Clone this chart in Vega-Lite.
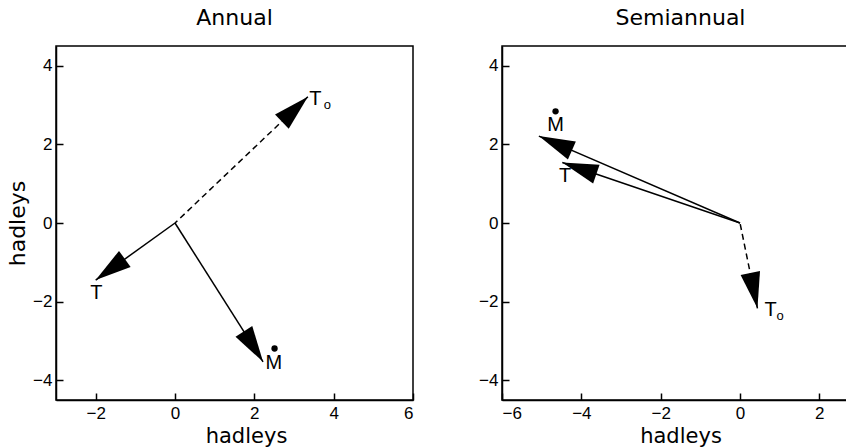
{
  "$schema": "https://vega.github.io/schema/vega-lite/v6.json",
  "padding": {"left": 5, "top": 6, "right": 0, "bottom": 0},
  "background": "white",
  "config": {
    "view": {"stroke": "black", "strokeWidth": 1.5},
    "axis": {
      "grid": false,
      "domainColor": "black",
      "domainWidth": 1.5,
      "tickColor": "black",
      "tickWidth": 1.5,
      "tickSize": -7,
      "labelFont": "Liberation Sans",
      "labelFontSize": 17,
      "labelColor": "black",
      "labelPadding": 11,
      "titleFont": "DejaVu Sans",
      "titleFontSize": 22,
      "titleFontWeight": "normal",
      "titleColor": "black"
    },
    "title": {"font": "DejaVu Sans", "fontSize": 22, "fontWeight": "normal", "color": "black", "offset": 16}
  },
  "datasets": {
    "vectors": [
      {"panel": "Annual", "vector": "T", "x": -2.0, "y": -1.45},
      {"panel": "Annual", "vector": "M", "x": 2.22, "y": -3.53},
      {"panel": "Annual", "vector": "To", "x": 3.35, "y": 3.21},
      {"panel": "Semiannual", "vector": "T", "x": -4.48, "y": 1.54},
      {"panel": "Semiannual", "vector": "M", "x": -5.07, "y": 2.21},
      {"panel": "Semiannual", "vector": "To", "x": 0.44, "y": -2.17}
    ],
    "labels": [
      {"panel": "Annual", "role": "letter", "text": "T", "x": -1.98, "y": -1.78},
      {"panel": "Annual", "role": "letter", "text": "M", "x": 2.49, "y": -3.55},
      {"panel": "Annual", "role": "letter", "text": "T", "x": 3.54, "y": 3.16},
      {"panel": "Annual", "role": "subscript", "text": "o", "x": 3.84, "y": 3.0},
      {"panel": "Semiannual", "role": "letter", "text": "M", "x": -4.65, "y": 2.48},
      {"panel": "Semiannual", "role": "letter", "text": "T", "x": -4.41, "y": 1.19},
      {"panel": "Semiannual", "role": "letter", "text": "T", "x": 0.77, "y": -2.21},
      {"panel": "Semiannual", "role": "subscript", "text": "o", "x": 1.01, "y": -2.36}
    ],
    "dots": [
      {"panel": "Annual", "x": 2.51, "y": -3.19},
      {"panel": "Semiannual", "x": -4.65, "y": 2.84}
    ]
  },
  "spacing": 62,
  "hconcat": [
    {
      "width": 357,
      "height": 354,
      "title": "Annual",
      "layer": [
        {
          "data": {"name": "vectors"},
          "transform": [{"filter": "datum.panel === 'Annual' && datum.vector !== 'To'"}],
          "mark": {"type": "rule", "color": "black", "strokeWidth": 1.5},
          "encoding": {
            "x": {"field": "x", "type": "quantitative", "scale": {"domain": [-3, 6], "nice": false, "zero": false},
                  "axis": {"values": [-2, 0, 2, 4, 6], "title": "hadleys", "titleX": 190, "titlePadding": 4, "titleFontSize": 21, "labelFontSize": 17, "labelPadding": 12}},
            "y": {"field": "y", "type": "quantitative", "scale": {"domain": [-4.5, 4.5], "nice": false, "zero": false},
                  "axis": {"values": [-4, -2, 0, 2, 4], "title": "hadleys", "titlePadding": 3, "labelFontSize": 17, "labelPadding": 11}},
            "x2": {"datum": 0},
            "y2": {"datum": 0}
          }
        },
        {
          "data": {"name": "vectors"},
          "transform": [{"filter": "datum.panel === 'Annual' && datum.vector === 'To'"}],
          "mark": {"type": "rule", "color": "black", "strokeWidth": 1.5, "strokeDash": [6, 4]},
          "encoding": {
            "x": {"field": "x", "type": "quantitative"},
            "y": {"field": "y", "type": "quantitative"},
            "x2": {"datum": 0},
            "y2": {"datum": 0}
          }
        },
        {
          "data": {"name": "vectors"},
          "transform": [
            {"filter": "datum.panel === 'Annual'"},
            {"calculate": "atan2(datum.x, datum.y) * 180 / PI", "as": "heading"}
          ],
          "mark": {"type": "point", "shape": "M0,0L0.55,2L-0.55,2Z", "filled": true, "color": "black", "opacity": 1, "size": 1296, "strokeWidth": 0},
          "encoding": {
            "x": {"field": "x", "type": "quantitative"},
            "y": {"field": "y", "type": "quantitative"},
            "angle": {"field": "heading", "type": "quantitative", "scale": null}
          }
        },
        {
          "data": {"name": "labels"},
          "transform": [{"filter": "datum.panel === 'Annual' && datum.role === 'letter'"}],
          "mark": {"type": "text", "font": "Liberation Sans", "fontSize": 20, "color": "black", "align": "center", "baseline": "middle"},
          "encoding": {
            "x": {"field": "x", "type": "quantitative"},
            "y": {"field": "y", "type": "quantitative"},
            "text": {"field": "text"}
          }
        },
        {
          "data": {"name": "labels"},
          "transform": [{"filter": "datum.panel === 'Annual' && datum.role === 'subscript'"}],
          "mark": {"type": "text", "font": "Liberation Sans", "fontSize": 13, "color": "black", "align": "center", "baseline": "middle"},
          "encoding": {
            "x": {"field": "x", "type": "quantitative"},
            "y": {"field": "y", "type": "quantitative"},
            "text": {"field": "text"}
          }
        },
        {
          "data": {"name": "dots"},
          "transform": [{"filter": "datum.panel === 'Annual'"}],
          "mark": {"type": "point", "shape": "circle", "filled": true, "color": "black", "opacity": 1, "size": 40},
          "encoding": {
            "x": {"field": "x", "type": "quantitative"},
            "y": {"field": "y", "type": "quantitative"}
          }
        }
      ]
    },
    {
      "width": 357,
      "height": 354,
      "title": "Semiannual",
      "layer": [
        {
          "data": {"name": "vectors"},
          "transform": [{"filter": "datum.panel === 'Semiannual' && datum.vector !== 'To'"}],
          "mark": {"type": "rule", "color": "black", "strokeWidth": 1.5},
          "encoding": {
            "x": {"field": "x", "type": "quantitative", "scale": {"domain": [-6, 3], "nice": false, "zero": false},
                  "axis": {"values": [-6, -4, -2, 0, 2], "title": "hadleys", "titlePadding": 4, "titleFontSize": 21, "labelFontSize": 17, "labelPadding": 12}},
            "y": {"field": "y", "type": "quantitative", "scale": {"domain": [-4.5, 4.5], "nice": false, "zero": false},
                  "axis": {"values": [-4, -2, 0, 2, 4], "title": null, "labelFontSize": 17, "labelPadding": 11}},
            "x2": {"datum": 0},
            "y2": {"datum": 0}
          }
        },
        {
          "data": {"name": "vectors"},
          "transform": [{"filter": "datum.panel === 'Semiannual' && datum.vector === 'To'"}],
          "mark": {"type": "rule", "color": "black", "strokeWidth": 1.5, "strokeDash": [6, 4]},
          "encoding": {
            "x": {"field": "x", "type": "quantitative"},
            "y": {"field": "y", "type": "quantitative"},
            "x2": {"datum": 0},
            "y2": {"datum": 0}
          }
        },
        {
          "data": {"name": "vectors"},
          "transform": [
            {"filter": "datum.panel === 'Semiannual'"},
            {"calculate": "atan2(datum.x, datum.y) * 180 / PI", "as": "heading"}
          ],
          "mark": {"type": "point", "shape": "M0,0L0.55,2L-0.55,2Z", "filled": true, "color": "black", "opacity": 1, "size": 1296, "strokeWidth": 0},
          "encoding": {
            "x": {"field": "x", "type": "quantitative"},
            "y": {"field": "y", "type": "quantitative"},
            "angle": {"field": "heading", "type": "quantitative", "scale": null}
          }
        },
        {
          "data": {"name": "labels"},
          "transform": [{"filter": "datum.panel === 'Semiannual' && datum.role === 'letter'"}],
          "mark": {"type": "text", "font": "Liberation Sans", "fontSize": 20, "color": "black", "align": "center", "baseline": "middle"},
          "encoding": {
            "x": {"field": "x", "type": "quantitative"},
            "y": {"field": "y", "type": "quantitative"},
            "text": {"field": "text"}
          }
        },
        {
          "data": {"name": "labels"},
          "transform": [{"filter": "datum.panel === 'Semiannual' && datum.role === 'subscript'"}],
          "mark": {"type": "text", "font": "Liberation Sans", "fontSize": 13, "color": "black", "align": "center", "baseline": "middle"},
          "encoding": {
            "x": {"field": "x", "type": "quantitative"},
            "y": {"field": "y", "type": "quantitative"},
            "text": {"field": "text"}
          }
        },
        {
          "data": {"name": "dots"},
          "transform": [{"filter": "datum.panel === 'Semiannual'"}],
          "mark": {"type": "point", "shape": "circle", "filled": true, "color": "black", "opacity": 1, "size": 40},
          "encoding": {
            "x": {"field": "x", "type": "quantitative"},
            "y": {"field": "y", "type": "quantitative"}
          }
        }
      ]
    }
  ]
}
